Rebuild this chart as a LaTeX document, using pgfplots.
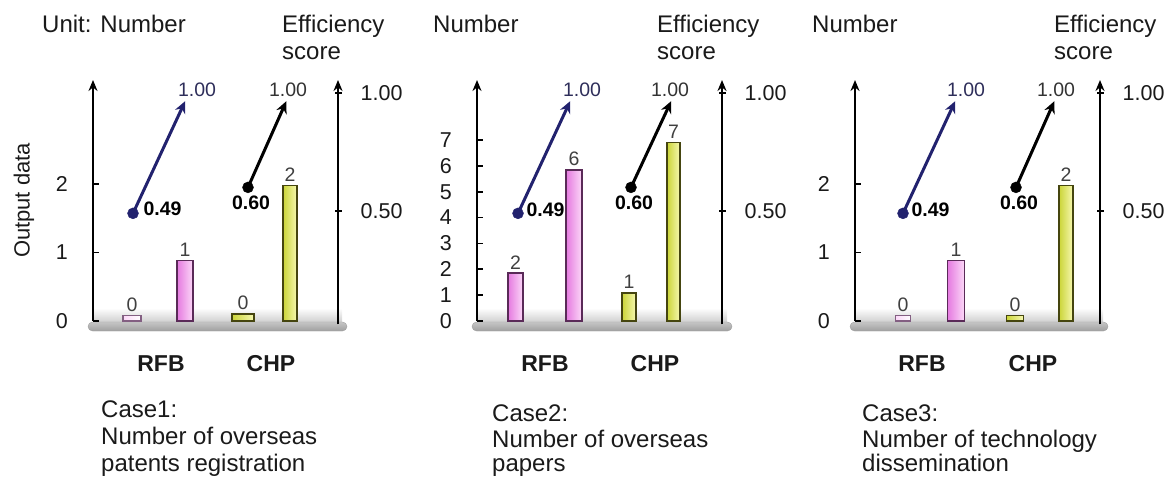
\documentclass[border=0pt]{standalone}
\usepackage{fontspec}
\setmainfont{Liberation Sans}
\usepackage{pgfplots}
\pgfplotsset{compat=1.18}
\usetikzlibrary{arrows.meta}
\definecolor{pinkL}{HTML}{E57AE0}
\definecolor{pinkR}{HTML}{FCD8F8}
\definecolor{pinkD}{HTML}{5A2A58}
\definecolor{yelL}{HTML}{CBD538}
\definecolor{yelR}{HTML}{F6F8B0}
\definecolor{yelD}{HTML}{45450F}
\definecolor{navy}{HTML}{22226E}
\definecolor{navyT}{HTML}{2E2E5A}
\definecolor{txt}{HTML}{1A1A1A}
\newcommand\fA{\fontsize{24}{27}\selectfont}
\newcommand\fT{\fontsize{21.5}{23}\selectfont}
\newcommand\fS{\fontsize{19.5}{21}\selectfont}
\newcommand\fX{\fontsize{23}{25}\selectfont\bfseries}
\pgfplotsset{
  leftax/.style={scale only axis, enlargelimits=false, clip=false, anchor=south west,
    axis y line*=left, axis x line*=bottom,
    x axis line style={draw=none}, major x tick style={draw=none},
    y axis line style={line width=2.4pt, -{Stealth[length=11pt,width=9pt]}},
    ytick style={line width=1.8pt, black}, tick align=inside, major tick length=6pt,
    yticklabel style={font=\fT, inner sep=0pt, xshift=-25pt, text=txt},
    xticklabel style={font=\fX, inner sep=0pt, yshift=-34pt, text=txt},
    /pgf/number format/assume math mode=true,
    every node near coord/.append style={font=\fS, text=black!75},
  },
  rightax/.style={scale only axis, enlargelimits=false, clip=false, anchor=south west,
    axis y line*=right, axis x line=none,
    y axis line style={line width=2.4pt, -{Stealth[length=11pt,width=9pt]}},
    ymin=0.02, ymax=1.055, ytick={0.5,1}, yticklabels={0.50,1.00},
    tick align=center, major tick length=7pt, ytick style={line width=1.8pt, black},
    yticklabel style={font=\fT, inner sep=0pt, xshift=19pt, text=txt},
  },
  pbar/.style={ybar, bar shift=0pt, draw=pinkD, line width=1.5pt, left color=pinkL, right color=pinkR,
    nodes near coords, point meta=explicit symbolic},
  wbar/.style={ybar, bar shift=0pt, draw=pinkD!75, line width=1.5pt, left color=pinkR, right color=white,
    nodes near coords, point meta=explicit symbolic},
  ybarst/.style={ybar, bar shift=0pt, draw=yelD, line width=1.5pt, left color=yelL, right color=yelR,
    nodes near coords, point meta=explicit symbolic},
  rfbline/.style={navy, line width=3pt, -{Stealth[length=12pt,width=11pt]}, shorten >=9pt},
  chpline/.style={black, line width=3pt, -{Stealth[length=12pt,width=11pt]}, shorten >=9pt},
  rfbdot/.style={only marks, mark=*, mark size=5.5pt, navy},
  chpdot/.style={only marks, mark=*, mark size=5.5pt, black},
}
\begin{document}
\begin{tikzpicture}
% platforms
\foreach \L/\R in {88/347, 472/732, 850/1108}{
  \shade[top color=white, bottom color=gray!40] ({(\L+5)*1pt},169pt) rectangle ({(\R-5)*1pt},154pt);
  \shade[rounded corners=4.5pt, top color=gray!45, bottom color=gray!75, draw=gray!75] ({\L*1pt},155pt) rectangle ({\R*1pt},146pt);
}
% ---------- Panel 1 ----------
\begin{axis}[leftax, at={(93pt,156pt)}, width=245pt, height=241pt,
  xmin=93, xmax=338, ymin=0, ymax=3.518, ytick={0,1,2},
  xtick={161,271}, xticklabels={RFB,CHP},
  ylabel={Output data}, ylabel style={at={(axis description cs:-0.282,0.5)}, anchor=center, font=\fontsize{22}{24}\selectfont, text=txt}]
\addplot[wbar, bar width=18pt] coordinates {(132,0.08) [0]};
\addplot[pbar, bar width=16pt] coordinates {(185,0.88) [1]};
\addplot[ybarst, bar width=22pt] coordinates {(243,0.10) [0]};
\addplot[ybarst, bar width=14pt] coordinates {(290,1.98) [2]};
\end{axis}
\begin{axis}[rightax, at={(93pt,152.7pt)}, width=245pt, height=244.3pt, xmin=93, xmax=338]
\addplot[rfbline] coordinates {(133,0.49) (189,1.00)};
\addplot[rfbdot] coordinates {(133,0.49)};
\addplot[chpline] coordinates {(248,0.60) (290,1.00)};
\addplot[chpdot] coordinates {(248,0.60)};
\node[anchor=west, font=\fS\bfseries, xshift=7pt, yshift=5pt] at (133,0.49) {0.49};
\node[anchor=north, font=\fS\bfseries, xshift=3pt, yshift=-5pt] at (248,0.60) {0.60};
\node[font=\fS, text=navyT, xshift=8pt, yshift=3pt] at (189,1.00) {1.00};
\node[font=\fS, text=black!80, xshift=-2pt, yshift=3pt] at (290,1.00) {1.00};
\end{axis}
% ---------- Panel 2 ----------
\begin{axis}[leftax, at={(477pt,156pt)}, width=245pt, height=241pt,
  xmin=477, xmax=722, ymin=0, ymax=9.32, ytick={0,1,2,3,4,5,6,7},
  xtick={545,655}, xticklabels={RFB,CHP}]
\addplot[pbar, bar width=15pt] coordinates {(515.5,1.85) [2]};
\addplot[pbar, bar width=16pt] coordinates {(574,5.84) [6]};
\addplot[ybarst, bar width=14pt] coordinates {(629,1.09) [1]};
\addplot[ybarst, bar width=13pt] coordinates {(673.5,6.90) [7]};
\end{axis}
\begin{axis}[rightax, at={(477pt,152.7pt)}, width=245pt, height=244.3pt, xmin=477, xmax=722]
\addplot[rfbline] coordinates {(518,0.49) (574,1.00)};
\addplot[rfbdot] coordinates {(518,0.49)};
\addplot[chpline] coordinates {(631,0.60) (675,1.00)};
\addplot[chpdot] coordinates {(631,0.60)};
\node[anchor=west, font=\fS\bfseries, xshift=5pt, yshift=4pt] at (518,0.49) {0.49};
\node[anchor=north, font=\fS\bfseries, xshift=3pt, yshift=-5pt] at (631,0.60) {0.60};
\node[font=\fS, text=navyT, xshift=8pt, yshift=3pt] at (574,1.00) {1.00};
\node[font=\fS, text=black!80, xshift=-5pt, yshift=3pt] at (675,1.00) {1.00};
\end{axis}
% ---------- Panel 3 ----------
\begin{axis}[leftax, at={(855pt,156pt)}, width=245pt, height=241pt,
  xmin=855, xmax=1100, ymin=0, ymax=3.518, ytick={0,1,2},
  xtick={922,1033}, xticklabels={RFB,CHP}]
\addplot[wbar, bar width=15pt] coordinates {(903,0.08) [0]};
\addplot[pbar, bar width=17pt] coordinates {(956,0.88) [1]};
\addplot[ybarst, bar width=17pt] coordinates {(1015,0.08) [0]};
\addplot[ybarst, bar width=14pt] coordinates {(1066,1.98) [2]};
\end{axis}
\begin{axis}[rightax, at={(855pt,152.7pt)}, width=245pt, height=244.3pt, xmin=855, xmax=1100]
\addplot[rfbline] coordinates {(903,0.49) (959,1.00)};
\addplot[rfbdot] coordinates {(903,0.49)};
\addplot[chpline] coordinates {(1016,0.60) (1058,1.00)};
\addplot[chpdot] coordinates {(1016,0.60)};
\node[anchor=west, font=\fS\bfseries, xshift=5pt, yshift=4pt] at (903,0.49) {0.49};
\node[anchor=north, font=\fS\bfseries, xshift=3pt, yshift=-5pt] at (1016,0.60) {0.60};
\node[font=\fS, text=navyT, xshift=7pt, yshift=3pt] at (959,1.00) {1.00};
\node[font=\fS, text=black!80, xshift=-2pt, yshift=3pt] at (1058,1.00) {1.00};
\end{axis}
% ---------- texts ----------
\begin{scope}[every node/.style={anchor=base west, font=\fA, text=txt, inner sep=0pt}]
\node at (42pt,444pt) {Unit: Number};
\node at (282pt,444pt) {Efficiency};
\node at (282pt,417pt) {score};
\node at (433pt,444pt) {Number};
\node at (657pt,444pt) {Efficiency};
\node at (657pt,417pt) {score};
\node at (812pt,444pt) {Number};
\node at (1054pt,444pt) {Efficiency};
\node at (1054pt,417pt) {score};
\node at (101pt,60pt) {Case1:};
\node at (101pt,33pt) {Number of overseas};
\node at (101pt,6pt) {patents registration};
\node at (492pt,56pt) {Case2:};
\node at (492pt,30pt) {Number of overseas};
\node at (492pt,6pt) {papers};
\node at (862pt,56pt) {Case3:};
\node at (862pt,30pt) {Number of technology};
\node at (862pt,6pt) {dissemination};
\end{scope}
\pgfresetboundingbox
\useasboundingbox (0,0) rectangle (1167pt,477pt);
\end{tikzpicture}
\end{document}
